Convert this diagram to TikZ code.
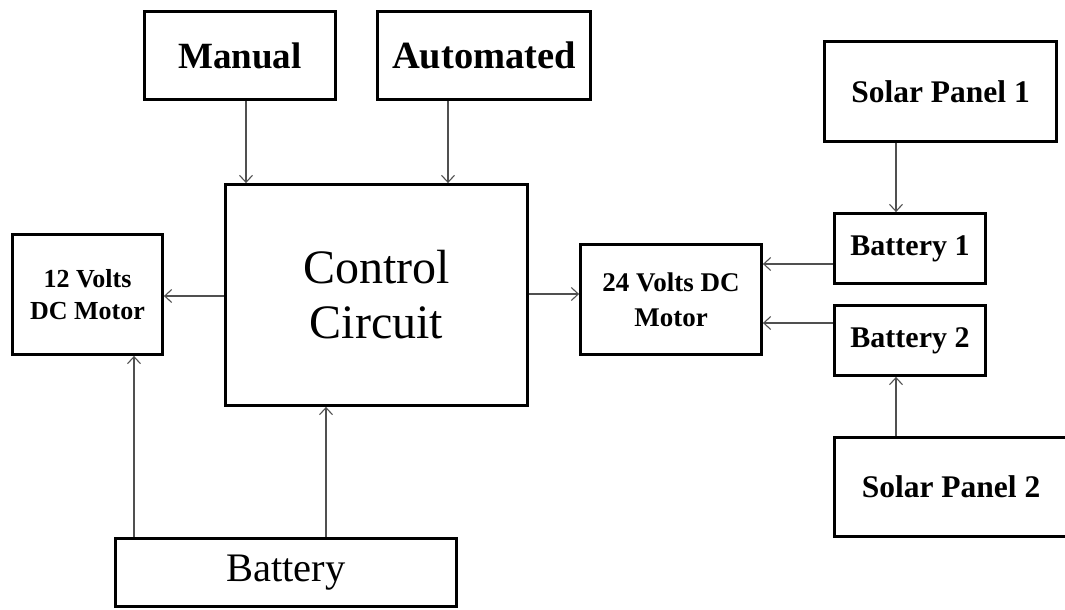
\documentclass[tikz,border=0pt]{standalone}
\usepackage{fontspec}
\setmainfont{Liberation Serif}
\usetikzlibrary{arrows.meta}
\definecolor{arrgray}{HTML}{505050}
\tikzset{
  blk/.style={draw=black, line width=2.8pt, rectangle, inner sep=0pt, align=center},
  arr/.style={draw=arrgray, line width=1.1pt, -{Straight Barb[length=7pt,width=13pt,line width=1.1pt]}},
}
\begin{document}
\begin{tikzpicture}[x=1pt,y=-1pt]
\clip (0,0) rectangle (1065,610);
\fill[white] (0,0) rectangle (1065,610);
% boxes
\node[blk, minimum width=191pt, minimum height=88pt, font=\fontsize{37}{40}\selectfont\bfseries] (manual) at (240,55.5) {Manual};
\node[blk, minimum width=213pt, minimum height=88pt, font=\fontsize{38.5}{40}\selectfont\bfseries] (auto) at (484,55.5) {Automated};
\node[blk, minimum width=232pt, minimum height=100pt, font=\fontsize{31.5}{34}\selectfont\bfseries] (solar1) at (940.5,91.5) {Solar Panel 1};
\node[blk, minimum width=302pt, minimum height=221pt, font=\fontsize{48}{55}\selectfont] (ctrl) at (376.5,295) {Control\\Circuit};
\node[blk, minimum width=150pt, minimum height=120pt, font=\fontsize{26}{32}\selectfont\bfseries] (m12) at (87.5,294.5) {12 Volts\\DC Motor};
\node[blk, minimum width=181pt, minimum height=110pt, font=\fontsize{27}{35}\selectfont\bfseries] (m24) at (671,299.5) {24 Volts DC\\Motor};
\node[blk, minimum width=151pt, minimum height=70pt, font=\fontsize{30}{34}\selectfont\bfseries] (bat1) at (910,248.5) {Battery 1};
\node[blk, minimum width=151pt, minimum height=70pt, font=\fontsize{30}{34}\selectfont\bfseries] (bat2) at (910,340.5) {Battery 2};
\node[blk, minimum width=233pt, minimum height=99pt, font=\fontsize{31.5}{34}\selectfont\bfseries] (solar2) at (951,487) {Solar Panel 2};
\node[blk, minimum width=341pt, minimum height=68pt, font=\fontsize{40.5}{44}\selectfont] (battery) at (286,572.5) {Battery};
% guide coordinates
\coordinate (xa) at (246,0);
\coordinate (xb) at (448,0);
\coordinate (xs) at (896,0);
\coordinate (xl) at (134,0);
\coordinate (xc) at (326,0);
\coordinate (yl) at (0,296);
\coordinate (yr) at (0,294);
\coordinate (y1) at (0,264);
\coordinate (y2) at (0,323);
% connectors
\draw[arr] (xa |- manual.south) -- (xa |- ctrl.north);
\draw[arr] (xb |- auto.south) -- (xb |- ctrl.north);
\draw[arr] (ctrl.west |- yl) -- (m12.east |- yl);
\draw[arr] (ctrl.east |- yr) -- (m24.west |- yr);
\draw[arr] (bat1.west |- y1) -- (m24.east |- y1);
\draw[arr] (bat2.west |- y2) -- (m24.east |- y2);
\draw[arr] (xs |- solar1.south) -- (xs |- bat1.north);
\draw[arr] (xs |- solar2.north) -- (xs |- bat2.south);
\draw[arr] (xl |- battery.north) -- (xl |- m12.south);
\draw[arr] (xc |- battery.north) -- (xc |- ctrl.south);
\end{tikzpicture}
\end{document}
